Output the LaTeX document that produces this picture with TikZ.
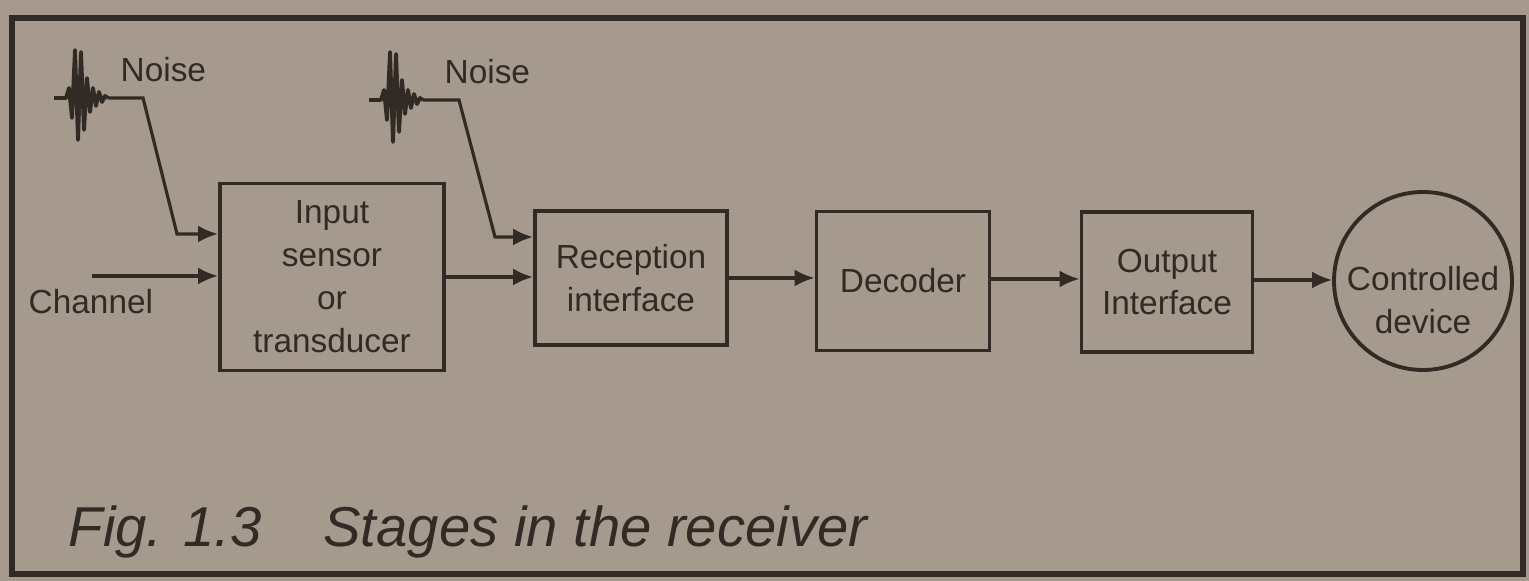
\documentclass[tikz,border=0pt]{standalone}
\usepackage{fontspec}
\setmainfont{Liberation Sans}
\usetikzlibrary{shapes.geometric, arrows.meta}
\definecolor{paper}{RGB}{166,154,142}
\definecolor{ink}{RGB}{50,42,37}
\tikzstyle{block} = [rectangle, draw=ink, line width=1.1pt, text=ink, align=center, font=\fontsize{9.5}{12.2}\selectfont, inner sep=0pt]
\tikzstyle{device} = [circle, draw=ink, line width=1.1pt, minimum size=17.8mm, inner sep=0pt]
\tikzstyle{txt} = [text=ink, align=center, font=\fontsize{9.5}{12.2}\selectfont, inner sep=0pt]
\tikzstyle{arrow} = [draw=ink, line width=0.9pt, ->, >={Latex[length=2mm, width=1.7mm]}]
\tikzstyle{noisepen} = [draw=ink, line width=1.1pt, line join=round]
% one noise burst, drawn from its left end
\newcommand{\burstpath}{(-12,0) -- (0,0) -- (3,-10) -- (6,20) -- (9,-48) -- (12,42) -- (15,-46) -- (18,32) -- (21,-20) -- (24,14) -- (27,-10) -- (30,8) -- (33,-6) -- (36,4) -- (39,-2) -- (42,0)}

\begin{document}
\begin{tikzpicture}[x=0.1mm, y=-0.1mm]
    \fill [paper] (0,0) rectangle (1529,581);
    \useasboundingbox (0,0) rectangle (1529,581);
    \draw [ink, line width=1.9pt] (12,18) rectangle (1523,574);

    % blocks
    \node [block, minimum width=22.4mm, minimum height=18.7mm] at (332,277) (input) {Input\\sensor\\or\\transducer};
    \node [block, minimum width=19.2mm, minimum height=13.4mm] at (631,278) (reception) {Reception\\interface};
    \node [block, minimum width=17.3mm, minimum height=13.9mm] at (903,281) (decoder) {Decoder};
    \node [block, minimum width=17.1mm, minimum height=14mm] at (1167,282) (output) {Output\\Interface};
    \node [device] at (1423,281) (dev) {};
    \node [txt] at (1423,300) (devlabel) {Controlled\\device};

    % labels
    \node [txt, anchor=west] at (28,302) (chanlabel) {Channel};
    \node [txt, anchor=west] at (120,70) (noiselabel1) {Noise};
    \node [txt, anchor=west] at (444,72) (noiselabel2) {Noise};
    \node [anchor=base west, inner sep=0pt, text=ink, font=\fontsize{16}{19}\selectfont\itshape] at (68,547) (caption) {Fig. 1.3\hspace{6.2mm}Stages in the receiver};

    % noise bursts
    \draw [noisepen, shift={(66,98)}] \burstpath;
    \draw [noisepen, shift={(381,100)}] \burstpath;
    \coordinate (noise1) at (108,98);
    \coordinate (noise2) at (423,100);
    \coordinate (chan) at (92,276);

    % connectors
    \draw [arrow] (chan) -- (chan -| input.west);
    \draw [arrow] (noise1) -- ++(35,0) -- (177,234) -- (input.west |- 0,234);
    \draw [arrow] (noise2) -- ++(36,0) -- (495,237) -- (reception.west |- 0,237);
    \draw [arrow] (input.east |- 0,277) -- (reception.west |- 0,277);
    \draw [arrow] (reception.east |- 0,278) -- (decoder.west |- 0,278);
    \draw [arrow] (decoder.east |- 0,279) -- (output.west |- 0,279);
    \draw [arrow] (output.east |- 0,280) -- (dev.west |- 0,280);
\end{tikzpicture}
\end{document}
